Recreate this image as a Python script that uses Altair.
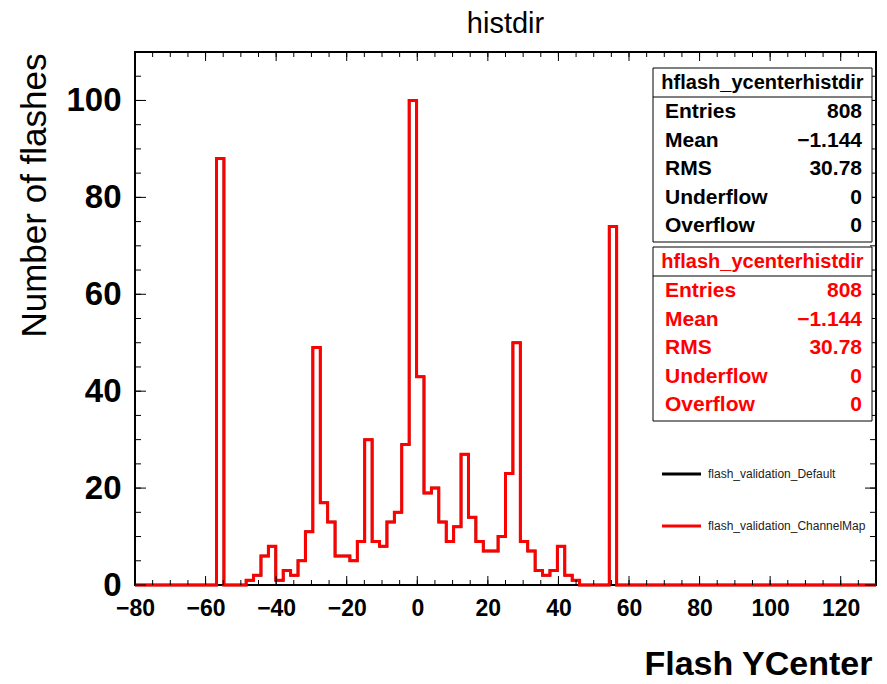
import altair as alt
import pandas as pd

# Histogram binning: 100 bins spanning [-80, 130)
X_MIN, X_MAX, N_BINS = -80, 130, 100

counts = [
    0, 0, 0, 0, 0, 0, 0, 0, 0, 0,
    0, 88, 0, 0, 0, 1, 2, 6, 8, 1,
    3, 2, 5, 11, 49, 17, 13, 6, 6, 5,
    9, 30, 9, 8, 13, 15, 29, 100, 43, 19,
    20, 13, 9, 12, 27, 14, 9, 7, 7, 10,
    23, 50, 9, 7, 3, 2, 3, 8, 2, 1,
    0, 0, 0, 0, 74, 0, 0, 0, 0, 0,
    0, 0, 0, 0, 0, 0, 0, 0, 0, 0,
    0, 0, 0, 0, 0, 0, 0, 0, 0, 0,
    0, 0, 0, 0, 0, 0, 0, 0, 0, 0,
]

x_label_values = [-80, -60, -40, -20, 0, 20, 40, 60, 80, 100, 120]
y_label_values = [0, 20, 40, 60, 80, 100]

stat_names = ["Entries", "Mean", "RMS", "Underflow", "Overflow"]
stat_values = ["808", "\u22121.144", "30.78", "0", "0"]
hist_name = "hflash_ycenterhistdir"
series_names = ["flash_validation_Default", "flash_validation_ChannelMap"]
series_colors = ["black", "#ff0000"]

FONT = "Liberation Sans"
W, H = 741, 533

edges = [X_MIN + (X_MAX - X_MIN) * i / N_BINS for i in range(N_BINS + 1)]
hist = pd.DataFrame({"x": edges, "n": counts + [counts[-1]]})

xscale = alt.Scale(domain=[X_MIN, X_MAX], nice=False, zero=False)
yscale = alt.Scale(domain=[0, 110], nice=False, zero=False)

xaxis = alt.Axis(
    values=x_label_values, format="d", grid=False, domain=False, ticks=False,
    tickSize=0, labelFont=FONT, labelFontWeight="bold", labelFontSize=23,
    labelColor="black", labelPadding=30, labelBaseline="alphabetic",
    labelFlush=False, labelOverlap=False,
    title="Flash YCenter", titleFont=FONT, titleFontSize=34,
    titleFontWeight="bold", titleColor="black", titleAlign="right",
    titleBaseline="alphabetic", titleX=W - 4, titleY=89,
)
yaxis = alt.Axis(
    values=y_label_values, format="d", grid=False, domain=False, ticks=False,
    tickSize=0, labelFont=FONT, labelFontWeight="bold", labelFontSize=33,
    labelColor="black", labelPadding=14, labelFlush=False, labelOverlap=False,
    title="Number of flashes", titleFont=FONT, titleFontSize=35,
    titleFontWeight="normal", titleColor="black", titleAngle=270,
    titleAlign="right", titleBaseline="alphabetic", titleX=-90, titleY=1,
)


def X(field):
    return alt.X(field, scale=xscale, axis=xaxis)


def Y(field):
    return alt.Y(field, scale=yscale, axis=yaxis)


layers = []

# Both histograms (identical contents); the ChannelMap one is drawn on top
layers.append(
    alt.Chart(hist).mark_line(interpolate="step-after", color=series_colors[0], strokeWidth=2.5)
    .encode(x=X("x:Q"), y=Y("n:Q"))
)
layers.append(
    alt.Chart(hist).mark_line(interpolate="step-after", color=series_colors[1], strokeWidth=3)
    .encode(x=X("x:Q"), y=Y("n:Q"))
)

# Inward-pointing ticks on all four sides of the frame
x_major = pd.DataFrame({"v": list(range(-80, 131, 20))})
x_minor = pd.DataFrame({"v": list(range(-75, 130, 5))})
y_major = pd.DataFrame({"v": list(range(0, 101, 20))})
y_minor = pd.DataFrame({"v": list(range(5, 110, 5))})


def xticks(df, length):
    out = []
    for y0, y1 in [(H, H - length), (0, length)]:
        out.append(
            alt.Chart(df).mark_rule(color="black", strokeWidth=1)
            .encode(x=X("v:Q"), y=alt.value(y0), y2=alt.value(y1))
        )
    return out


def yticks(df, length):
    out = []
    for x0, x1 in [(0, length), (W, W - length)]:
        out.append(
            alt.Chart(df).mark_rule(color="black", strokeWidth=1)
            .encode(y=Y("v:Q"), x=alt.value(x0), x2=alt.value(x1))
        )
    return out


layers += xticks(x_minor, 5) + xticks(x_major, 9)
layers += yticks(y_minor, 6) + yticks(y_major, 11)

one = pd.DataFrame({"k": [0]})


def text(s, x, y, size, weight="normal", color="black", align="left", baseline="middle"):
    return alt.Chart(one).mark_text(
        font=FONT, fontSize=size, fontWeight=weight, color=color,
        align=align, baseline=baseline,
    ).encode(x=alt.value(x), y=alt.value(y), text=alt.value(s))


def box(x0, x1, y0, y1):
    return alt.Chart(one).mark_rect(fill="white", stroke="black", strokeWidth=1).encode(
        x=alt.value(x0), x2=alt.value(x1), y=alt.value(y0), y2=alt.value(y1)
    )


def hrule(x0, x1, y, color="black", width=1):
    return alt.Chart(one).mark_rule(color=color, strokeWidth=width).encode(
        x=alt.value(x0), x2=alt.value(x1), y=alt.value(y)
    )


# Title
layers.append(text("histdir", W / 2, -19, 29, align="center", baseline="alphabetic"))

# Statistics boxes
BX0, BX1 = 518, 737
for top, color in [(16, "black"), (195, "#ff0000")]:
    layers.append(box(BX0, BX1, top, top + 174))
    layers.append(hrule(BX0, BX1, top + 29))
    layers.append(text(hist_name, (BX0 + BX1) / 2, top + 15, 20, "bold", color, "center"))
    for k, (name, val) in enumerate(zip(stat_names, stat_values)):
        ry = top + 44 + k * 28.6
        layers.append(text(name, 530, ry, 21, "bold", color, "left"))
        layers.append(text(val, 727, ry, 21, "bold", color, "right"))

# Legend
for k, (name, color) in enumerate(zip(series_names, series_colors)):
    ly = 422 + k * 52
    layers.append(hrule(527, 566, ly, color, 3))
    layers.append(text(name, 573, ly, 12, "normal", "#222222", "left"))

chart = (
    alt.layer(*layers)
    .properties(
        width=W, height=H,
        autosize=alt.AutoSizeParams(type="none"),
        padding={"left": 135, "top": 52, "right": 11, "bottom": 99},
        background="white",
    )
    .configure_view(stroke="black", strokeWidth=2)
)

chart.save("out.html", embed_options={"renderer": "svg", "actions": False})
